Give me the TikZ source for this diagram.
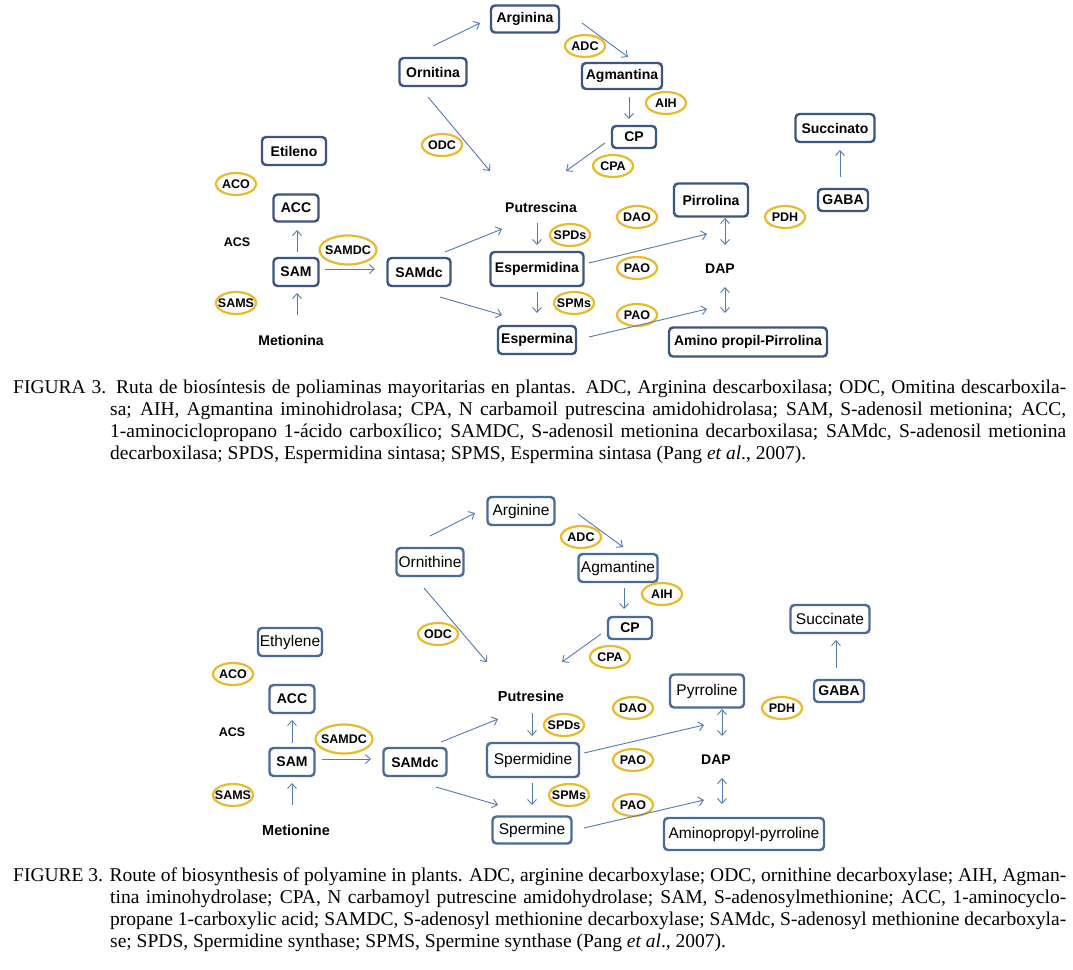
\documentclass[tikz,border=0pt]{standalone}
\usepackage{fontspec}
\setmainfont{Liberation Serif}
\newfontfamily\lab{Liberation Sans}
\usepackage{tikz}
\usetikzlibrary{shapes}
\usetikzlibrary{arrows.meta}
\definecolor{boxblue}{RGB}{60,86,132}
\definecolor{boxbluetwo}{RGB}{74,106,154}
\definecolor{enzgold}{RGB}{234,186,42}
\definecolor{flowblue}{RGB}{84,122,176}
\tikzstyle{box}=[rectangle,rounded corners=4pt,draw=boxblue,line width=2.4pt,inner sep=0pt,font=\lab\bfseries\fontsize{14}{16}\selectfont]
\tikzstyle{boxb}=[box,draw=boxbluetwo]
\tikzstyle{boxr}=[boxb,font=\lab\fontsize{15.5}{17}\selectfont]
\tikzstyle{enz}=[ellipse,draw=enzgold,line width=2.2pt,inner xsep=-6pt,inner ysep=0pt,minimum width=40pt,minimum height=22pt,font=\lab\bfseries\fontsize{12.5}{14}\selectfont]
\tikzstyle{tag}=[inner sep=1pt,font=\lab\bfseries\fontsize{14}{16}\selectfont]
\tikzstyle{flow}=[->,>={Straight Barb[length=5pt,width=9pt]},draw=flowblue,line width=0.9pt]
\tikzstyle{capline}=[inner sep=0pt,anchor=base west,font=\fontsize{19.5}{22}\selectfont]
\tikzset{every picture/.style={
    x=1pt,y=-1pt
  }
}

\begin{document}
\begin{tikzpicture}
      \fill[white] (0,0) rectangle (1073,969);
      \useasboundingbox (0,0) rectangle (1073,969);
      \node[box,minimum width=68pt,minimum height=27pt] at (525,19) (arg) {Arginina};
      \node[box,minimum width=67pt,minimum height=28pt] at (433,72) (orn) {Ornitina};
      \node[box,minimum width=80pt,minimum height=26pt] at (622,76) (agm) {Agmantina};
      \node[box,minimum width=44pt,minimum height=22pt] at (634,137) (cp) {CP};
      \node[box,minimum width=64pt,minimum height=28pt] at (294,151) (eti) {Etileno};
      \node[box,minimum width=45pt,minimum height=27pt] at (296,208) (acc) {ACC};
      \node[box,minimum width=45pt,minimum height=28pt] at (296,272) (sam) {SAM};
      \node[box,minimum width=63pt,minimum height=28pt] at (419,272) (samdc) {SAMdc};
      \node[box,minimum width=93pt,minimum height=34pt] at (537,269) (espd) {Espermidina};
      \node[box,minimum width=78pt,minimum height=28pt] at (537,340) (espm) {Espermina};
      \node[box,minimum width=74pt,minimum height=33pt] at (711,200) (pir) {Pirrolina};
      \node[box,minimum width=79pt,minimum height=28pt] at (835,128) (suc) {Succinato};
      \node[box,minimum width=50pt,minimum height=22pt] at (843,200) (gaba) {GABA};
      \node[box,minimum width=158pt,minimum height=29pt] at (748,342) (apr) {Amino propil-Pirrolina};
      \node[tag] at (541,207) (put) {Putrescina};
      \node[tag] at (291,340) (met) {Metionina};
      \node[tag,font=\lab\bfseries\fontsize{12.5}{14}\selectfont] at (237,242) (acs) {ACS};
      \node[tag] at (720,269) (dap) {DAP};
      \node[enz] at (585,46) (adc) {ADC};
      \node[enz] at (666,103) (aih) {AIH};
      \node[enz] at (442,145) (odc) {ODC};
      \node[enz] at (613,166) (cpa) {CPA};
      \node[enz] at (236,184) (aco) {ACO};
      \node[enz,minimum width=57pt,minimum height=29pt] at (348,250) (samdce) {SAMDC};
      \node[enz] at (236,303) (sams) {SAMS};
      \node[enz] at (570,235) (spds) {SPDs};
      \node[enz] at (574,303) (spms) {SPMs};
      \node[enz] at (637,217) (dao) {DAO};
      \node[enz] at (785,217) (pdh) {PDH};
      \node[enz] at (637,268) (pao) {PAO};
      \node[enz] at (637,315) (paob) {PAO};
      \draw[flow] ([shift={(0,-26)}]orn.center)--([shift={(-45,4)}]arg.center);
      \draw[flow] ([shift={(57,4)}]arg.center)--([shift={(6,-19)}]agm.center);
      \draw[flow] ([shift={(7,21)}]agm.center)--([shift={(-5,-18)}]cp.center);
      \draw[flow] ([shift={(-5,25)}]orn.center)--([shift={(-51,-36)}]put.center);
      \draw[flow] ([shift={(-29,6)}]cp.center)--([shift={(25,-36)}]put.center);
      \draw[flow] ([shift={(1,-20)}]sam.center)--([shift={(1,22)}]acc.center);
      \draw[flow] ([shift={(6,-25)}]met.center)--([shift={(1,21)}]sam.center);
      \draw[flow] ([shift={(29,-3)}]sam.center)--([shift={(-44,-3)}]samdc.center);
      \draw[flow] ([shift={(26,-20)}]samdc.center)--([shift={(-39,22)}]put.center);
      \draw[flow] ([shift={(21,25)}]samdc.center)--([shift={(-35,-25)}]espm.center);
      \draw[flow] ([shift={(-4,16)}]put.center)--([shift={(0,-24)}]espd.center);
      \draw[flow] ([shift={(0,23)}]espd.center)--([shift={(0,-27)}]espm.center);
      \draw[flow] ([shift={(52,-6)}]espd.center)--([shift={(-4,34)}]pir.center);
      \draw[flow] ([shift={(52,-3)}]espm.center)--([shift={(-41,-33)}]apr.center);
      \draw[flow,<->] ([shift={(14,18)}]pir.center)--([shift={(5,-24)}]dap.center);
      \draw[flow,<->] ([shift={(5,18)}]dap.center)--([shift={(-23,-29)}]apr.center);
      \draw[flow] ([shift={(-3,-23)}]gaba.center)--([shift={(5,22)}]suc.center);
      \node[capline] at (13,393) (capa) {\makebox[1053pt][s]{FIGURA 3. Ruta de biosíntesis de poliaminas mayoritarias en plantas. ADC, Arginina descarboxilasa; ODC, Omitina descarboxila-}};
      \node[capline] at (110,415) (capb) {\makebox[956pt][s]{sa; AIH, Agmantina iminohidrolasa; CPA, N carbamoil putrescina amidohidrolasa; SAM, S-adenosil metionina; ACC,}};
      \node[capline] at (110,437) (capc) {\makebox[956pt][s]{1-aminociclopropano 1-ácido carboxílico; SAMDC, S-adenosil metionina decarboxilasa; SAMdc, S-adenosil metionina}};
      \node[capline] at (110,459) (capd) {decarboxilasa; SPDS, Espermidina sintasa; SPMS, Espermina sintasa (Pang \textit{et al}., 2007).};
      \node[boxr,minimum width=67pt,minimum height=28pt] at (521,511) (arg2) {Arginine};
      \node[boxr,minimum width=67pt,minimum height=28pt] at (430,562) (orn2) {Ornithine};
      \node[boxr,minimum width=79pt,minimum height=28pt] at (618,568) (agm2) {Agmantine};
      \node[boxb,minimum width=44pt,minimum height=22pt] at (630,628) (cp2) {CP};
      \node[boxr,minimum width=64pt,minimum height=28pt] at (290,642) (eth2) {Ethylene};
      \node[boxb,minimum width=45pt,minimum height=28pt] at (292,699) (acc2) {ACC};
      \node[boxb,minimum width=45pt,minimum height=28pt] at (292,762) (sam2) {SAM};
      \node[boxb,minimum width=63pt,minimum height=28pt] at (415,762) (samdc2) {SAMdc};
      \node[boxr,minimum width=92pt,minimum height=34pt] at (533,760) (spd2) {Spermidine};
      \node[boxr,minimum width=79pt,minimum height=27pt] at (532,830) (spm2) {Spermine};
      \node[boxr,minimum width=74pt,minimum height=33pt] at (707,691) (pyr2) {Pyrroline};
      \node[boxr,minimum width=79pt,minimum height=28pt] at (830,619) (suc2) {Succinate};
      \node[boxb,minimum width=50pt,minimum height=22pt] at (839,691) (gaba2) {GABA};
      \node[boxr,minimum width=160pt,minimum height=32pt] at (744,834) (apr2) {Aminopropyl-pyrroline};
      \node[tag,font=\lab\bfseries\fontsize{14.5}{16}\selectfont] at (531,696) (put2) {Putresine};
      \node[tag,font=\lab\bfseries\fontsize{14.5}{16}\selectfont] at (296,830) (met2) {Metionine};
      \node[tag,font=\lab\bfseries\fontsize{12.5}{14}\selectfont] at (232,732) (acs2) {ACS};
      \node[tag] at (716,760) (dap2) {DAP};
      \node[enz] at (581,537) (adc2) {ADC};
      \node[enz] at (662,594) (aih2) {AIH};
      \node[enz] at (438,634) (odc2) {ODC};
      \node[enz] at (610,657) (cpa2) {CPA};
      \node[enz] at (233,674) (aco2) {ACO};
      \node[enz,minimum width=57pt,minimum height=29pt] at (344,739) (samdce2) {SAMDC};
      \node[enz] at (233,795) (sams2) {SAMS};
      \node[enz] at (564,725) (spds2) {SPDs};
      \node[enz] at (569,795) (spms2) {SPMs};
      \node[enz] at (633,708) (dao2) {DAO};
      \node[enz] at (782,708) (pdh2) {PDH};
      \node[enz] at (633,760) (pao2) {PAO};
      \node[enz] at (633,805) (paob2) {PAO};
      \draw[flow] ([shift={(0,-26)}]orn2.center)--([shift={(-46,2)}]arg2.center);
      \draw[flow] ([shift={(57,3)}]arg2.center)--([shift={(5,-21)}]agm2.center);
      \draw[flow] ([shift={(6,20)}]agm2.center)--([shift={(-6,-19)}]cp2.center);
      \draw[flow] ([shift={(-6,26)}]orn2.center)--([shift={(-44,-34)}]put2.center);
      \draw[flow] ([shift={(-29,6)}]cp2.center)--([shift={(31,-34)}]put2.center);
      \draw[flow] ([shift={(0,-19)}]sam2.center)--([shift={(0,21)}]acc2.center);
      \draw[flow] ([shift={(-4,-25)}]met2.center)--([shift={(0,21)}]sam2.center);
      \draw[flow] ([shift={(30,-3)}]sam2.center)--([shift={(-44,-3)}]samdc2.center);
      \draw[flow] ([shift={(26,-20)}]samdc2.center)--([shift={(-33,23)}]put2.center);
      \draw[flow] ([shift={(21,25)}]samdc2.center)--([shift={(-34,-25)}]spm2.center);
      \draw[flow] ([shift={(1,17)}]put2.center)--([shift={(-1,-24)}]spd2.center);
      \draw[flow] ([shift={(-1,23)}]spd2.center)--([shift={(0,-25)}]spm2.center);
      \draw[flow] ([shift={(51,-7)}]spd2.center)--([shift={(-3,34)}]pyr2.center);
      \draw[flow] ([shift={(52,-2)}]spm2.center)--([shift={(-40,-34)}]apr2.center);
      \draw[flow,<->] ([shift={(15,18)}]pyr2.center)--([shift={(6,-24)}]dap2.center);
      \draw[flow,<->] ([shift={(6,18)}]dap2.center)--([shift={(-22,-30)}]apr2.center);
      \draw[flow] ([shift={(-3,-23)}]gaba2.center)--([shift={(6,21)}]suc2.center);
      \node[capline] at (13,881) (capa2) {\makebox[1053pt][s]{FIGURE 3. Route of biosynthesis of polyamine in plants. ADC, arginine decarboxylase; ODC, ornithine decarboxylase; AIH, Agman-}};
      \node[capline] at (110,903) (capb2) {\makebox[956pt][s]{tina iminohydrolase; CPA, N carbamoyl putrescine amidohydrolase; SAM, S-adenosylmethionine; ACC, 1-aminocyclo-}};
      \node[capline] at (110,925) (capc2) {\makebox[956pt][s]{propane 1-carboxylic acid; SAMDC, S-adenosyl methionine decarboxylase; SAMdc, S-adenosyl methionine decarboxyla-}};
      \node[capline] at (110,947) (capd2) {se; SPDS, Spermidine synthase; SPMS, Spermine synthase (Pang \textit{et al}., 2007).};
\end{tikzpicture}
\end{document}
